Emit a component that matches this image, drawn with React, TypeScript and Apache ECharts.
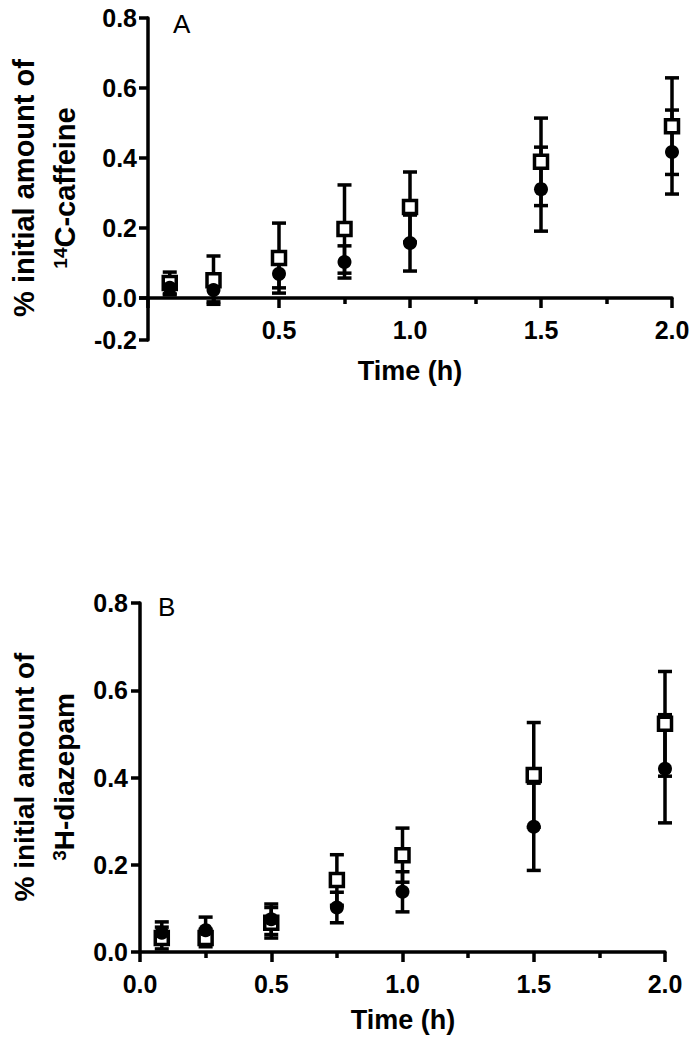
import React, { useEffect, useRef } from "react";
import * as echarts from "echarts";

// Sampling times (h)
const times = [0.083, 0.25, 0.5, 0.75, 1.0, 1.5, 2.0];

// Panel A: 14C-caffeine
const caffeineSquareMean = [0.043, 0.051, 0.114, 0.197, 0.26, 0.389, 0.491];
const caffeineSquareSd = [0.031, 0.069, 0.1, 0.126, 0.1, 0.125, 0.138];
const caffeineCircleMean = [0.029, 0.023, 0.069, 0.103, 0.157, 0.311, 0.417];
const caffeineCircleSd = [0.02, 0.034, 0.04, 0.046, 0.08, 0.12, 0.12];

// Panel B: 3H-diazepam
const diazepamSquareMean = [0.032, 0.032, 0.067, 0.165, 0.222, 0.406, 0.523];
const diazepamSquareSd = [0.025, 0.02, 0.035, 0.058, 0.062, 0.12, 0.12];
const diazepamCircleMean = [0.044, 0.05, 0.075, 0.102, 0.138, 0.287, 0.42];
const diazepamCircleSd = [0.025, 0.03, 0.035, 0.035, 0.046, 0.1, 0.124];

// Axis ranges / ticks
const xMin = 0;
const xMax = 2.0;
const xInterval = 0.5;
const yMin = 0;
const yMax = 0.8;
const yInterval = 0.2;
const yStubMin = -0.2;

const FONT = "'Liberation Sans', Arial, Helvetica, sans-serif";
const BLACK = "#000";
const LW = 3.5;

function errorSeries(mean: number[], sd: number[], xi: number, yi: number) {
  return {
    type: "custom",
    xAxisIndex: xi,
    yAxisIndex: yi,
    clip: false,
    z: 2,
    silent: true,
    data: times.map((t, i) => [t, mean[i], sd[i]]),
    encode: { x: 0, y: 1 },
    renderItem: (_params: any, api: any) => {
      const x = api.value(0);
      const y = api.value(1);
      const e = api.value(2);
      const hi = api.coord([x, y + e]);
      const lo = api.coord([x, y - e]);
      const hw = 7;
      const style = { stroke: BLACK, lineWidth: LW, fill: "none" };
      return {
        type: "group",
        children: [
          { type: "line", shape: { x1: hi[0], y1: hi[1], x2: lo[0], y2: lo[1] }, style },
          { type: "line", shape: { x1: hi[0] - hw, y1: hi[1], x2: hi[0] + hw, y2: hi[1] }, style },
          { type: "line", shape: { x1: lo[0] - hw, y1: lo[1], x2: lo[0] + hw, y2: lo[1] }, style },
        ],
      };
    },
  };
}

function squareSeries(mean: number[], xi: number, yi: number) {
  return {
    type: "scatter",
    xAxisIndex: xi,
    yAxisIndex: yi,
    symbol: "rect",
    symbolSize: 13,
    z: 3,
    clip: false,
    itemStyle: { color: "#fff", borderColor: BLACK, borderWidth: LW, opacity: 1 },
    data: times.map((t, i) => [t, mean[i]]),
  };
}

function circleSeries(mean: number[], xi: number, yi: number) {
  return {
    type: "scatter",
    xAxisIndex: xi,
    yAxisIndex: yi,
    symbol: "circle",
    symbolSize: 14,
    z: 4,
    clip: false,
    itemStyle: { color: BLACK, opacity: 1 },
    data: times.map((t, i) => [t, mean[i]]),
  };
}

const axisLine = { show: true, onZero: false, lineStyle: { color: BLACK, width: LW } };
const tickLabel = { color: BLACK, fontSize: 25, fontWeight: "bold", fontFamily: FONT };

function xAxisDef(gridIndex: number, hideZero: boolean) {
  return {
    type: "value",
    gridIndex,
    min: xMin,
    max: xMax,
    interval: xInterval,
    position: "bottom",
    axisLine,
    axisTick: { show: true, length: 10, lineStyle: { color: BLACK, width: LW } },
    minorTick: { show: true, splitNumber: 2, length: 6, lineStyle: { color: BLACK, width: LW } },
    splitLine: { show: false },
    minorSplitLine: { show: false },
    axisLabel: {
      ...tickLabel,
      margin: 19,
      formatter: (v: number) => (hideZero && v === 0 ? "" : v.toFixed(1)),
    },
  };
}

function yAxisDef(gridIndex: number, min: number, max: number, margin: number, hideZero: boolean) {
  return {
    type: "value",
    gridIndex,
    min,
    max,
    interval: yInterval,
    position: "left",
    axisLine,
    axisTick: { show: true, length: 9, lineStyle: { color: BLACK, width: LW } },
    splitLine: { show: false },
    axisLabel: {
      ...tickLabel,
      margin,
      formatter: (v: number) => (hideZero && Math.abs(v) < 1e-9 ? "" : v.toFixed(1)),
    },
  };
}

function titleText(x: number, y: number, text: string, size: number, rich?: any) {
  return {
    type: "text",
    x,
    y,
    rotation: Math.PI / 2,
    silent: true,
    style: {
      text,
      fill: BLACK,
      fontSize: size,
      fontWeight: "bold",
      fontFamily: FONT,
      align: "center",
      verticalAlign: "middle",
      rich,
    },
  };
}

export default function App() {
  const ref = useRef<HTMLDivElement>(null);

  useEffect(() => {
    if (!ref.current) return;
    const chart = echarts.init(ref.current, undefined, { renderer: "svg" });

    const supRich = (size: number) => ({
      sup: { fontSize: 19, fontWeight: "bold", fontFamily: FONT, fill: BLACK, color: BLACK, verticalAlign: "top" },
      main: { fontSize: size, fontWeight: "bold", fontFamily: FONT, fill: BLACK, color: BLACK, verticalAlign: "middle" },
    });

    chart.setOption({
      animation: false,
      backgroundColor: "#fff",
      grid: [
        { left: 148, top: 18, width: 524, height: 280, outerBoundsMode: "none", containLabel: false },
        { left: 148, top: 298, width: 524, height: 42, outerBoundsMode: "none", containLabel: false },
        { left: 140, top: 603, width: 525, height: 349, outerBoundsMode: "none", containLabel: false },
      ],
      xAxis: [
        xAxisDef(0, true),
        { type: "value", gridIndex: 1, min: xMin, max: xMax, show: false },
        xAxisDef(2, false),
      ],
      yAxis: [
        yAxisDef(0, yMin, yMax, 11, false),
        yAxisDef(1, yStubMin, yMin, 11, true),
        yAxisDef(2, yMin, yMax, 12, false),
      ],
      series: [
        errorSeries(caffeineSquareMean, caffeineSquareSd, 0, 0),
        errorSeries(caffeineCircleMean, caffeineCircleSd, 0, 0),
        squareSeries(caffeineSquareMean, 0, 0),
        circleSeries(caffeineCircleMean, 0, 0),
        errorSeries(diazepamSquareMean, diazepamSquareSd, 2, 2),
        errorSeries(diazepamCircleMean, diazepamCircleSd, 2, 2),
        squareSeries(diazepamSquareMean, 2, 2),
        circleSeries(diazepamCircleMean, 2, 2),
      ],
      graphic: [
        {
          type: "text",
          x: 173,
          y: 24,
          silent: true,
          style: { text: "A", fill: BLACK, fontSize: 26, fontFamily: FONT, align: "left", verticalAlign: "middle" },
        },
        {
          type: "text",
          x: 158,
          y: 607,
          silent: true,
          style: { text: "B", fill: BLACK, fontSize: 26, fontFamily: FONT, align: "left", verticalAlign: "middle" },
        },
        titleText(24, 188, "% initial amount of", 29),
        titleText(65, 188, "{sup|14}{main|C-caffeine}", 29, supRich(29)),
        titleText(24, 777, "% initial amount of", 28),
        titleText(64, 777, "{sup|3}{main|H-diazepam}", 28, supRich(28)),
        {
          type: "text",
          x: 410,
          y: 371,
          silent: true,
          style: {
            text: "Time (h)",
            fill: BLACK,
            fontSize: 27,
            fontWeight: "bold",
            fontFamily: FONT,
            align: "center",
            verticalAlign: "middle",
          },
        },
        {
          type: "text",
          x: 403,
          y: 1020,
          silent: true,
          style: {
            text: "Time (h)",
            fill: BLACK,
            fontSize: 27,
            fontWeight: "bold",
            fontFamily: FONT,
            align: "center",
            verticalAlign: "middle",
          },
        },
      ],
    });

    return () => {
      chart.dispose();
    };
  }, []);

  return (
    <div
      ref={ref}
      style={{ position: "fixed", left: 0, top: 0, width: 699, height: 1050, background: "#fff" }}
    />
  );
}
